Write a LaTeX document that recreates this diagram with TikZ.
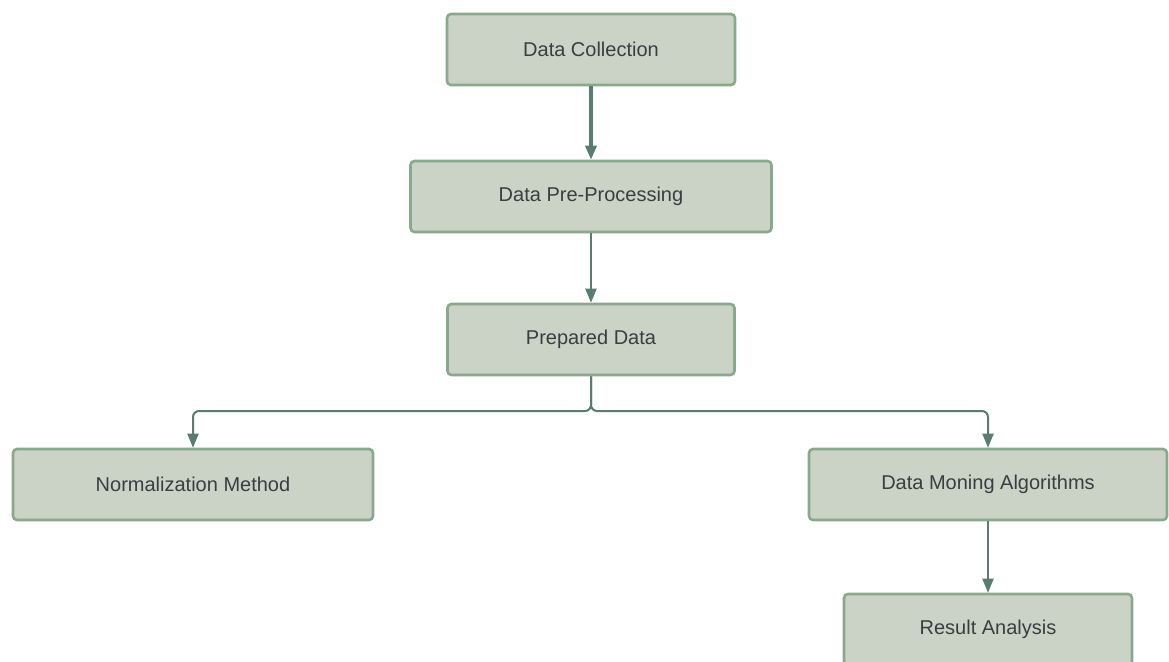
\documentclass[tikz,border=0pt]{standalone}
\usepackage{fontspec}
\setmainfont{Liberation Sans}
\usetikzlibrary{arrows.meta}
\definecolor{boxfill}{HTML}{CBD3C6}
\definecolor{boxedge}{HTML}{8AA88C}
\definecolor{linkcol}{HTML}{5A7B70}
\definecolor{txtcol}{HTML}{363F42}
\begin{document}
\begin{tikzpicture}[x=1pt,y=-1pt,
  stepbox/.style={draw=boxedge, fill=boxfill, line width=2.6pt, rounded corners=4pt,
    minimum height=71pt, inner sep=0pt, text=txtcol, font=\fontsize{20}{23}\selectfont,
    anchor=center},
  link/.style={draw=linkcol, line width=2pt, rounded corners=6pt,
    -{Triangle[length=14pt,width=11pt]}}]
\useasboundingbox (0,0) rectangle (1169,661);
\node[stepbox, minimum width=288pt] (collect) at (591,49.5) {Data Collection};
\node[stepbox, minimum width=361pt] (prep) at (591,196.5) {Data Pre-Processing};
\node[stepbox, minimum width=287pt] (prepared) at (591,339.5) {Prepared Data};
\node[stepbox, minimum width=360pt] (norm) at (193,484.5) {Normalization Method};
\node[stepbox, minimum width=358pt] (mining) at (988,484.5) {Data Moning Algorithms};
\node[stepbox, minimum width=288pt] (result) at (988,629.5) {Result Analysis};
\coordinate (fork) at (591,411);
\draw[link, line width=3.4pt] (collect.south) -- (prep.north);
\draw[link] (prep.south) -- (prepared.north);
\draw[link] (prepared.south) -- (fork) -| (norm.north);
\draw[link] (prepared.south) -- (fork) -| (mining.north);
\draw[link] (mining.south) -- (result.north);
\end{tikzpicture}
\end{document}
